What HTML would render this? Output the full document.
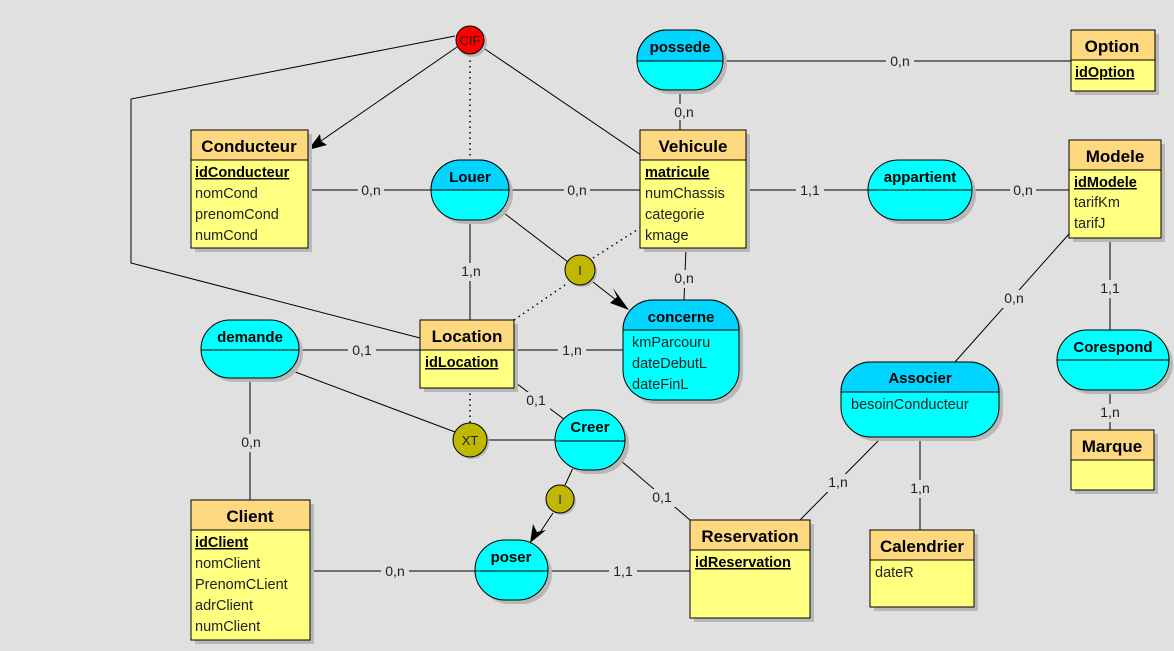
<!DOCTYPE html>
<html><head><meta charset="utf-8"><style>
html,body{margin:0;padding:0;background:#e0e0e0;}
svg{display:block;font-family:"Liberation Sans","DejaVu Sans",sans-serif;}
.t{font-weight:bold;font-size:17px;text-anchor:middle;fill:#000}
.a{font-size:14.5px;fill:#222}
.k{font-size:14.5px;font-weight:bold;text-decoration:underline;fill:#000}
.l{font-size:14px;fill:#222;text-anchor:middle}
.at{font-weight:bold;font-size:15px;text-anchor:middle;fill:#000}
.ln{stroke:#000;stroke-width:1;fill:none}
.dt{stroke:#000;stroke-width:1.5;stroke-dasharray:1.5,4;fill:none}
.sh{fill:#b8b8b8}
</style></head><body>
<svg width="1174" height="651" viewBox="0 0 1174 651" xmlns="http://www.w3.org/2000/svg">
<rect width="1174" height="651" fill="#e0e0e0"/>
<g class="ln">
<line x1="457" y1="47" x2="318" y2="143"/>
<line x1="482" y1="47" x2="641" y2="155"/>
<polyline points="455,36 131,99 131,263 420,338"/>
<line x1="308" y1="190" x2="431" y2="190"/>
<line x1="509" y1="190" x2="640" y2="190"/>
<line x1="470" y1="220" x2="470" y2="320"/>
<line x1="500" y1="210" x2="568" y2="262"/>
<line x1="593" y1="282" x2="625" y2="307"/>
<line x1="686" y1="248" x2="684" y2="300"/>
<line x1="680" y1="90" x2="680" y2="130"/>
<line x1="723" y1="61" x2="1071" y2="61"/>
<line x1="746" y1="190" x2="868" y2="190"/>
<line x1="972" y1="190" x2="1069" y2="190"/>
<line x1="299" y1="350" x2="420" y2="350"/>
<line x1="514" y1="350" x2="623" y2="350"/>
<line x1="250" y1="378" x2="250" y2="500"/>
<line x1="290" y1="370" x2="455" y2="432"/>
<line x1="487" y1="440" x2="555" y2="440"/>
<line x1="512" y1="380" x2="565" y2="420"/>
<line x1="620" y1="460" x2="690" y2="520"/>
<line x1="573" y1="468" x2="565" y2="485"/>
<line x1="553" y1="513" x2="537" y2="537"/>
<line x1="310" y1="571" x2="475" y2="571"/>
<line x1="548" y1="571" x2="690" y2="571"/>
<line x1="1069" y1="234" x2="955" y2="362"/>
<line x1="882" y1="437" x2="800" y2="520"/>
<line x1="920" y1="437" x2="920" y2="530"/>
<line x1="1110" y1="238" x2="1110" y2="330"/>
<line x1="1110" y1="390" x2="1110" y2="430"/>
</g>
<g class="dt">
<line x1="470" y1="55" x2="470" y2="160"/>
<line x1="470" y1="388" x2="470" y2="423"/>
<line x1="514" y1="320" x2="568" y2="283"/>
<line x1="593" y1="258" x2="640" y2="228"/>
</g>
<polygon points="308,150 327,145 321,141 320,134" fill="#000"/>
<polygon points="629,310 610,303 617,297 613,288" fill="#000"/>
<polygon points="530,543 533,524 537,532 546,530" fill="#000"/>
<g>
<rect x="358" y="182" width="26" height="16" fill="#e0e0e0"/><text class="l" x="371" y="195">0,n</text>
<rect x="564" y="182" width="26" height="16" fill="#e0e0e0"/><text class="l" x="577" y="195">0,n</text>
<rect x="456" y="263" width="28" height="18" fill="#e0e0e0"/><text class="l" x="471" y="276">1,n</text>
<rect x="670" y="270" width="26" height="18" fill="#e0e0e0"/><text class="l" x="684" y="283">0,n</text>
<rect x="670" y="104" width="26" height="16" fill="#e0e0e0"/><text class="l" x="684" y="117">0,n</text>
<rect x="886" y="53" width="28" height="16" fill="#e0e0e0"/><text class="l" x="900" y="66">0,n</text>
<rect x="796" y="182" width="28" height="16" fill="#e0e0e0"/><text class="l" x="810" y="195">1,1</text>
<rect x="1010" y="182" width="26" height="16" fill="#e0e0e0"/><text class="l" x="1023" y="195">0,n</text>
<rect x="348" y="342" width="28" height="16" fill="#e0e0e0"/><text class="l" x="362" y="355">0,1</text>
<rect x="558" y="342" width="28" height="16" fill="#e0e0e0"/><text class="l" x="572" y="355">1,n</text>
<rect x="522" y="392" width="28" height="18" fill="#e0e0e0"/><text class="l" x="536" y="405">0,1</text>
<rect x="237" y="434" width="28" height="18" fill="#e0e0e0"/><text class="l" x="251" y="447">0,n</text>
<rect x="648" y="489" width="28" height="18" fill="#e0e0e0"/><text class="l" x="662" y="502">0,1</text>
<rect x="381" y="563" width="28" height="16" fill="#e0e0e0"/><text class="l" x="395" y="576">0,n</text>
<rect x="609" y="563" width="28" height="16" fill="#e0e0e0"/><text class="l" x="623" y="576">1,1</text>
<rect x="1000" y="290" width="28" height="18" fill="#e0e0e0"/><text class="l" x="1014" y="303">0,n</text>
<rect x="1096" y="280" width="28" height="18" fill="#e0e0e0"/><text class="l" x="1110" y="293">1,1</text>
<rect x="1096" y="404" width="28" height="18" fill="#e0e0e0"/><text class="l" x="1110" y="417">1,n</text>
<rect x="824" y="474" width="28" height="18" fill="#e0e0e0"/><text class="l" x="838" y="487">1,n</text>
<rect x="906" y="480" width="28" height="18" fill="#e0e0e0"/><text class="l" x="920" y="493">1,n</text>
</g>
<g stroke="#000" stroke-width="1">
<rect class="sh" x="195" y="134" width="117" height="118" stroke="none"/>
<rect x="191" y="130" width="117" height="118" fill="#ffff80"/>
<rect x="191" y="130" width="117" height="30" fill="#ffd980"/>
<rect class="sh" x="644" y="134" width="106" height="118" stroke="none"/>
<rect x="640" y="130" width="106" height="118" fill="#ffff80"/>
<rect x="640" y="130" width="106" height="30" fill="#ffd980"/>
<rect class="sh" x="1075" y="34" width="84" height="61" stroke="none"/>
<rect x="1071" y="30" width="84" height="61" fill="#ffff80"/>
<rect x="1071" y="30" width="84" height="30" fill="#ffd980"/>
<rect class="sh" x="1073" y="144" width="92" height="98" stroke="none"/>
<rect x="1069" y="140" width="92" height="98" fill="#ffff80"/>
<rect x="1069" y="140" width="92" height="30" fill="#ffd980"/>
<rect class="sh" x="424" y="324" width="94" height="68" stroke="none"/>
<rect x="420" y="320" width="94" height="68" fill="#ffff80"/>
<rect x="420" y="320" width="94" height="30" fill="#ffd980"/>
<rect class="sh" x="195" y="504" width="119" height="140" stroke="none"/>
<rect x="191" y="500" width="119" height="140" fill="#ffff80"/>
<rect x="191" y="500" width="119" height="30" fill="#ffd980"/>
<rect class="sh" x="694" y="524" width="120" height="98" stroke="none"/>
<rect x="690" y="520" width="120" height="98" fill="#ffff80"/>
<rect x="690" y="520" width="120" height="30" fill="#ffd980"/>
<rect class="sh" x="874" y="534" width="104" height="77" stroke="none"/>
<rect x="870" y="530" width="104" height="77" fill="#ffff80"/>
<rect x="870" y="530" width="104" height="30" fill="#ffd980"/>
<rect class="sh" x="1075" y="434" width="83" height="60" stroke="none"/>
<rect x="1071" y="430" width="83" height="60" fill="#ffff80"/>
<rect x="1071" y="430" width="83" height="30" fill="#ffd980"/>
</g>
<g stroke="#000" stroke-width="1">
<rect class="sh" x="641" y="34" width="86" height="60" rx="30" stroke="none"/>
<rect x="637" y="30" width="86" height="60" rx="30" fill="#00ffff"/>
<path d="M637,61 L637,60 A30,30 0 0 1 667,30 L693,30 A30,30 0 0 1 723,60 L723,61 Z" fill="#00d4ff"/>
<rect class="sh" x="435" y="164" width="78" height="60" rx="30" stroke="none"/>
<rect x="431" y="160" width="78" height="60" rx="30" fill="#00ffff"/>
<path d="M431,190 A30,30 0 0 1 461,160 L479,160 A30,30 0 0 1 509,190 Z" fill="#00d4ff"/>
<rect class="sh" x="872" y="164" width="104" height="60" rx="30" stroke="none"/>
<rect x="868" y="160" width="104" height="60" rx="30" fill="#00ffff"/>
<rect class="sh" x="627" y="304" width="116" height="100" rx="30" stroke="none"/>
<rect x="623" y="300" width="116" height="100" rx="30" fill="#00ffff"/>
<path d="M623,330 A30,30 0 0 1 653,300 L709,300 A30,30 0 0 1 739,330 Z" fill="#00d4ff"/>
<rect class="sh" x="205" y="324" width="98" height="58" rx="29" stroke="none"/>
<rect x="201" y="320" width="98" height="58" rx="29" fill="#00ffff"/>
<rect class="sh" x="559" y="414" width="70" height="60" rx="30" stroke="none"/>
<rect x="555" y="410" width="70" height="60" rx="30" fill="#00ffff"/>
<rect class="sh" x="479" y="544" width="73" height="60" rx="30" stroke="none"/>
<rect x="475" y="540" width="73" height="60" rx="30" fill="#00ffff"/>
<rect class="sh" x="845" y="366" width="158" height="75" rx="30" stroke="none"/>
<rect x="841" y="362" width="158" height="75" rx="30" fill="#00ffff"/>
<path d="M841,392 A30,30 0 0 1 871,362 L969,362 A30,30 0 0 1 999,392 Z" fill="#00d4ff"/>
<rect class="sh" x="1061" y="334" width="112" height="60" rx="30" stroke="none"/>
<rect x="1057" y="330" width="112" height="60" rx="30" fill="#00ffff"/>
<line x1="868" y1="190" x2="972" y2="190"/>
<line x1="201" y1="350" x2="299" y2="350"/>
<line x1="555" y1="441" x2="625" y2="441"/>
<line x1="475" y1="571" x2="548" y2="571"/>
<line x1="1057" y1="360" x2="1169" y2="360"/>
<circle cx="472" cy="42" r="15" fill="#b8b8b8" stroke="none"/>
<circle cx="470" cy="40" r="14" fill="#ff0000"/>
<circle cx="582" cy="272" r="15" fill="#b8b8b8" stroke="none"/>
<circle cx="580" cy="270" r="15" fill="#c0b800"/>
<circle cx="472" cy="442" r="17" fill="#b8b8b8" stroke="none"/>
<circle cx="470" cy="440" r="17" fill="#c0b800"/>
<circle cx="562" cy="501" r="14" fill="#b8b8b8" stroke="none"/>
<circle cx="560" cy="499" r="14" fill="#c0b800"/>
</g>
<g class="a" style="font-size:13px;text-anchor:middle">
<text x="470" y="45">CIF</text><text x="580" y="275">I</text><text x="470" y="445">XT</text><text x="560" y="504">I</text>
</g>
<text class="at" x="680" y="52">possede</text>
<text class="at" x="470" y="182">Louer</text>
<text class="at" x="920" y="182">appartient</text>
<text class="at" x="681" y="322">concerne</text>
<text class="at" x="250" y="342">demande</text>
<text class="at" x="590" y="432">Creer</text>
<text class="at" x="511" y="562">poser</text>
<text class="at" x="920" y="383">Associer</text>
<text class="at" x="1113" y="352">Corespond</text>
<text class="a" x="632" y="347">kmParcouru</text>
<text class="a" x="632" y="368">dateDebutL</text>
<text class="a" x="632" y="389">dateFinL</text>
<text class="a" x="851" y="409">besoinConducteur</text>
<text class="t" x="249" y="152">Conducteur</text>
<text class="k" x="195" y="177">idConducteur</text>
<text class="a" x="195" y="198">nomCond</text>
<text class="a" x="195" y="219">prenomCond</text>
<text class="a" x="195" y="240">numCond</text>
<text class="t" x="693" y="152">Vehicule</text>
<text class="k" x="645" y="177">matricule</text>
<text class="a" x="645" y="198">numChassis</text>
<text class="a" x="645" y="219">categorie</text>
<text class="a" x="645" y="240">kmage</text>
<text class="t" x="1112" y="52">Option</text>
<text class="k" x="1075" y="77">idOption</text>
<text class="t" x="1115" y="162">Modele</text>
<text class="k" x="1074" y="187">idModele</text>
<text class="a" x="1074" y="207">tarifKm</text>
<text class="a" x="1074" y="228">tarifJ</text>
<text class="t" x="467" y="342">Location</text>
<text class="k" x="425" y="367">idLocation</text>
<text class="t" x="250" y="522">Client</text>
<text class="k" x="195" y="547">idClient</text>
<text class="a" x="195" y="568">nomClient</text>
<text class="a" x="195" y="589">PrenomCLient</text>
<text class="a" x="195" y="610">adrClient</text>
<text class="a" x="195" y="631">numClient</text>
<text class="t" x="750" y="542">Reservation</text>
<text class="k" x="695" y="567">idReservation</text>
<text class="t" x="922" y="552">Calendrier</text>
<text class="a" x="875" y="577">dateR</text>
<text class="t" x="1112" y="452">Marque</text>
</svg>
</body></html>
